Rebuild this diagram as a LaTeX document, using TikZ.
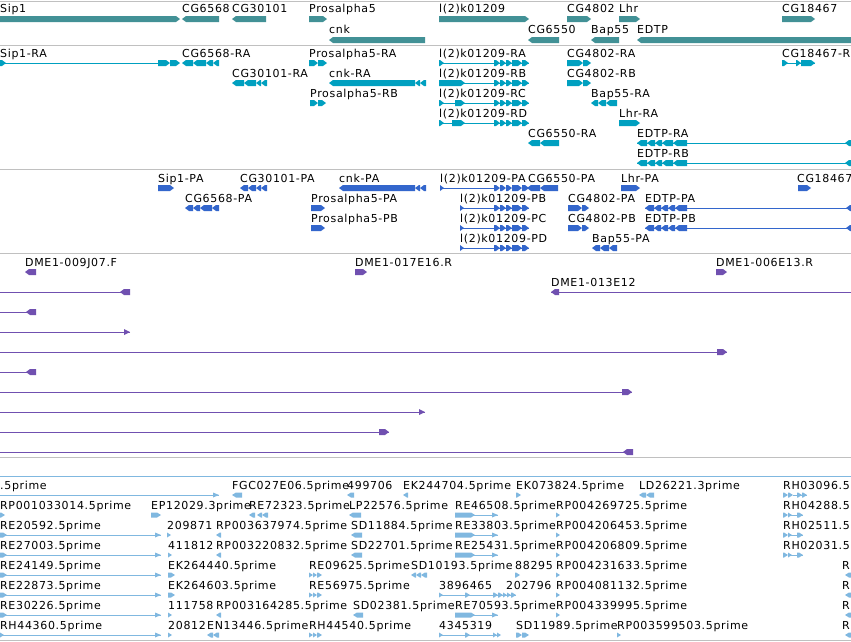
\documentclass[tikz,border=0pt]{standalone}
\usepackage{fontspec}
\newfontfamily\trackfont[LetterSpace=6]{DejaVu Sans}
\definecolor{genec}{RGB}{66,145,150}
\definecolor{txc}{RGB}{0,160,192}
\definecolor{protc}{RGB}{51,102,204}
\definecolor{clonec}{RGB}{112,80,176}
\definecolor{estc}{RGB}{128,184,224}
\definecolor{sepc}{RGB}{192,192,192}
\def\exh{3}
% exon boxes with a pointed end, intron lines, arrow tips
\newcommand{\exR}[3]{\fill (#1,#3-\exh) -- (#2-4,#3-\exh) -- (#2,#3) -- (#2-4,#3+\exh) -- (#1,#3+\exh) -- cycle;}
\newcommand{\exL}[3]{\fill (#2,#3-\exh) -- (#1+4,#3-\exh) -- (#1,#3) -- (#1+4,#3+\exh) -- (#2,#3+\exh) -- cycle;}
\newcommand{\intr}[3]{\draw (#1,#3) -- (#2,#3);}
\newcommand{\tipR}[2]{\fill (#1-6,#2-\exh) -- (#1,#2) -- (#1-6,#2+\exh) -- cycle;}
\newcommand{\kset}[1]{\foreach \a/\b in {494/500,500/506,506/512,512/522,522/529} {\exR{\a}{\b}{#1}}}
\newcommand{\lbar}[1]{\intr{0}{161}{#1}\exR{0}{7}{#1}\tipR{161}{#1}}
\newcommand{\rebar}[1]{\exR{455}{475}{#1}\intr{455}{498}{#1}\tipR{498}{#1}}
\newcommand{\rhbar}[1]{\exR{783}{788}{#1}\exR{788}{792}{#1}\intr{788}{803}{#1}\exR{797}{803}{#1}}
\begin{document}
\begin{tikzpicture}[x=1pt, y=-1pt,
    lbl/.style = {anchor=base west, inner sep=0pt, font=\trackfont\fontsize{11}{13}\selectfont},
    sep/.style = {draw=sepc, line width=1pt}]
\useasboundingbox (0,0) rectangle (851,641);
\fill[white] (0,0) rectangle (851,641);
\clip (0,0) rectangle (851,641);

% track borders
\draw[sep] (0,1) -- (851,1);
\draw[sep] (0,45) -- (851,45);
\draw[sep] (0,169) -- (851,169);
\draw[sep] (0,253) -- (851,253);
\draw[sep] (0,457.5) -- (851,457.5);
\draw[estc, line width=1pt] (0,476) -- (851,476);
\draw[sep] (0,640) -- (851,640);

% genes
\foreach \x/\y/\t [count=\i] in {0/12/Sip1, 182/12/CG6568, 232/12/CG30101, 309/12/Prosalpha5,
    329/33/cnk, 439/12/l(2)k01209, 528/33/CG6550, 567/12/CG4802, 591/33/Bap55,
    619/12/Lhr, 637/33/EDTP, 782/12/CG18467}
    {\node[lbl] (g\i) at (\x,\y) {\t};}
\begin{scope}[fill=genec]
\exR{0}{180}{19} \exL{182}{219}{19} \exL{232}{266}{19} \exR{309}{327}{19}
\exL{329}{425}{40} \exR{439}{529}{19} \exL{528}{559}{40} \exR{567}{591}{19}
\exL{591}{619}{40} \exR{619}{640}{19} \exL{637}{860}{40} \exR{782}{815}{19}
\end{scope}

% transcripts
\foreach \x/\y/\t [count=\i] in {0/57/Sip1-RA, 182/57/CG6568-RA, 309/57/Prosalpha5-RA,
    439/57/l(2)k01209-RA, 567/57/CG4802-RA, 782/57/CG18467-R,
    232/77/CG30101-RA, 329/77/cnk-RA, 439/77/l(2)k01209-RB, 567/77/CG4802-RB,
    310/97/Prosalpha5-RB, 439/97/l(2)k01209-RC, 591/97/Bap55-RA,
    439/117/l(2)k01209-RD, 619/117/Lhr-RA,
    528/137/CG6550-RA, 637/137/EDTP-RA, 637/157/EDTP-RB}
    {\node[lbl] (t\i) at (\x,\y) {\t};}
\begin{scope}[fill=txc, draw=txc, line width=1pt]
\exR{0}{6}{63} \intr{0}{158}{63} \exR{158}{170}{63} \exR{170}{180}{63}
\foreach \a/\b in {182/193,193/206,206/213,213/219} {\exL{\a}{\b}{63}}
\exR{309}{318}{63} \exR{318}{327}{63}
\exR{439}{444}{63} \intr{439}{529}{63} \kset{63}
\exR{567}{583}{63} \exR{583}{591}{63}
\exR{782}{788}{63} \intr{782}{815}{63} \exR{796}{801}{63} \exR{801}{815}{63}
\foreach \a/\b in {232/244,244/256,256/261,261/267} {\exL{\a}{\b}{83}}
\exL{329}{415}{83} \exL{415}{420}{83} \exL{420}{426}{83}
\exR{439}{465}{83} \intr{439}{529}{83} \kset{83}
\exR{567}{583}{83} \exR{583}{591}{83}
\exR{310}{318}{103} \exR{318}{326}{103}
\exR{439}{444}{103} \exR{455}{465}{103} \intr{439}{529}{103} \kset{103}
\foreach \a/\b in {591/598,598/606,606/617} {\exL{\a}{\b}{103}}
\exR{439}{444}{123} \exR{452}{465}{123} \intr{439}{529}{123} \kset{123}
\exR{619}{640}{123}
\exL{528}{540}{143} \exL{540}{559}{143}
\foreach \y in {143,163} {
  \intr{637}{855}{\y} \exL{845}{855}{\y}
  \foreach \a/\b in {637/647,647/655,655/662,662/673,673/687} {\exL{\a}{\b}{\y}}
}
\end{scope}

% proteins
\foreach \x/\y/\t [count=\i] in {158/182/Sip1-PA, 240/182/CG30101-PA, 339/182/cnk-PA,
    440/182/l(2)k01209-PA, 528/182/CG6550-PA, 621/182/Lhr-PA, 797/182/CG18467,
    185/202/CG6568-PA, 311/202/Prosalpha5-PA, 460/202/l(2)k01209-PB, 568/202/CG4802-PA, 645/202/EDTP-PA,
    311/222/Prosalpha5-PB, 460/222/l(2)k01209-PC, 568/222/CG4802-PB, 645/222/EDTP-PB,
    460/242/l(2)k01209-PD, 592/242/Bap55-PA}
    {\node[lbl] (p\i) at (\x,\y) {\t};}
\begin{scope}[fill=protc, draw=protc, line width=1pt]
\exR{158}{174}{188}
\foreach \a/\b in {240/248,248/256,256/261,261/267} {\exL{\a}{\b}{188}}
\exL{339}{415}{188} \exL{415}{420}{188} \exL{420}{426}{188}
\exR{440}{444}{188} \intr{440}{494}{188} \kset{188}
\exL{527}{540}{188} \exL{540}{558}{188}
\exR{621}{640}{188} \exR{798}{811}{188}
\foreach \a/\b in {185/193,193/200,200/212,212/219} {\exL{\a}{\b}{208}}
\foreach \y in {208,228} {
  \exR{311}{325}{\y}
  \exR{460}{464}{\y} \intr{460}{529}{\y} \kset{\y}
  \exR{568}{582}{\y} \exR{582}{589}{\y}
  \intr{645}{855}{\y} \exL{846}{855}{\y}
  \foreach \a/\b in {645/654,654/661,661/668,668/675,675/687} {\exL{\a}{\b}{\y}}
}
\exR{460}{464}{248} \intr{460}{529}{248} \kset{248}
\foreach \a/\b in {592/600,600/609,609/617} {\exL{\a}{\b}{248}}
\end{scope}

% clone ends
\foreach \x/\y/\t [count=\i] in {25/266/DME1-009J07.F, 355/266/DME1-017E16.R,
    716/266/DME1-006E13.R, 551/286/DME1-013E12}
    {\node[lbl] (c\i) at (\x,\y) {\t};}
\begin{scope}[fill=clonec, draw=clonec, line width=1pt]
\exL{25}{36}{272} \exR{355}{367}{272} \exR{716}{727}{272}
\intr{0}{130}{292} \exL{120}{130}{292}
\intr{551}{855}{292} \exL{551}{559}{292}
\intr{0}{36}{312} \exL{26}{36}{312}
\intr{0}{130}{332} \tipR{130}{332}
\intr{0}{727}{352} \exR{717}{727}{352}
\intr{0}{36}{372} \exL{26}{36}{372}
\intr{0}{632}{392} \exR{622}{632}{392}
\intr{0}{425}{412} \tipR{425}{412}
\intr{0}{389}{432} \exR{379}{389}{432}
\intr{0}{633}{452} \exL{623}{633}{452}
\end{scope}

% EST ends
\foreach \x/\y/\t [count=\i] in {0/489/.5prime, 232/489/FGC027E06.5prime, 347/489/499706,
    403/489/EK244704.5prime, 516/489/EK073824.5prime, 639/489/LD26221.3prime, 783/489/RH03096.5,
    0/509/RP001033014.5prime, 151/509/EP12029.3prime, 249/509/RE72323.5prime, 349/509/LP22576.5prime,
    455/509/RE46508.5prime, 556/509/RP004269725.5prime, 783/509/RH04288.5,
    0/529/RE20592.5prime, 167/529/209871, 216/529/RP003637974.5prime, 351/529/SD11884.5prime,
    455/529/RE33803.5prime, 556/529/RP004206453.5prime, 783/529/RH02511.5,
    0/549/RE27003.5prime, 168/549/411812, 216/549/RP003220832.5prime, 351/549/SD22701.5prime,
    455/549/RE25431.5prime, 556/549/RP004206809.5prime, 783/549/RH02031.5,
    0/569/RE24149.5prime, 168/569/EK264440.5prime, 309/569/RE09625.5prime, 411/569/SD10193.5prime,
    515/569/88295, 556/569/RP004231633.5prime, 842/569/R,
    0/589/RE22873.5prime, 168/589/EK264603.5prime, 309/589/RE56975.5prime, 439/589/3896465,
    506/589/202796, 556/589/RP004081132.5prime, 842/589/R,
    0/609/RE30226.5prime, 168/609/111758, 216/609/RP003164285.5prime, 353/609/SD02381.5prime,
    455/609/RE70593.5prime, 556/609/RP004339995.5prime, 842/609/R,
    0/629/RH44360.5prime, 168/629/20812, 207/629/EN13446.5prime, 309/629/RH44540.5prime,
    439/629/4345319, 516/629/SD11989.5prime, 617/629/RP003599503.5prime, 842/629/R}
    {\node[lbl] (e\i) at (\x,\y) {\t};}
\begin{scope}[fill=estc, draw=estc, line width=1pt]
\def\exh{2.5}
\intr{0}{219}{495} \tipR{219}{495}
\exL{232}{242}{495} \exL{347}{354}{495} \exL{403}{408}{495} \exR{516}{521}{495}
\exL{639}{646}{495} \exL{646}{654}{495}
\exR{783}{788}{495} \exR{788}{793}{495} \intr{793}{807}{495} \exR{797}{802}{495} \exR{802}{807}{495}
\exR{0}{5}{515} \exR{151}{161}{515}
\exL{249}{255}{515} \exL{257}{262}{515} \exL{262}{268}{515}
\exL{349}{361}{515} \rebar{515} \exR{556}{560}{515} \rhbar{515}
\lbar{535} \exR{167}{171}{535} \exL{216}{221}{535} \exL{351}{362}{535} \rebar{535} \exR{556}{560}{535} \rhbar{535}
\lbar{555} \exR{168}{172}{555} \exL{216}{221}{555} \exL{351}{362}{555} \rebar{555} \exR{556}{560}{555} \rhbar{555}
\lbar{575} \exR{168}{175}{575}
\foreach \a/\b in {309/313,313/317,317/322} {\exR{\a}{\b}{575}}
\foreach \a/\b in {411/416,416/421,421/427} {\exL{\a}{\b}{575}}
\exR{515}{520}{575} \exR{556}{560}{575} \exL{845}{855}{575}
\lbar{595} \exR{168}{175}{595}
\foreach \a/\b in {309/313,313/317,317/322} {\exR{\a}{\b}{595}}
\exR{439}{443}{595} \intr{439}{516}{595} \exR{465}{470}{595}
\foreach \a/\b in {493/498,498/503,503/507,507/511,511/516} {\exR{\a}{\b}{595}}
\exR{556}{560}{595} \exL{845}{855}{595}
\lbar{615} \exR{168}{172}{615} \exL{216}{221}{615} \exL{353}{363}{615} \rebar{615} \exR{556}{560}{615} \exL{845}{855}{615}
\intr{0}{161}{635} \tipR{161}{635} \exR{0}{4}{635} \exR{168}{172}{635}
\exL{207}{213}{635} \exL{213}{219}{635}
\foreach \a/\b in {309/313,313/317,317/322} {\exR{\a}{\b}{635}}
\exR{439}{443}{635} \intr{439}{500}{635} \exR{465}{470}{635} \exR{493}{497}{635} \exR{497}{501}{635}
\exR{516}{522}{635} \exR{522}{529}{635} \exR{617}{621}{635} \exL{845}{855}{635}
\end{scope}
\end{tikzpicture}
\end{document}
